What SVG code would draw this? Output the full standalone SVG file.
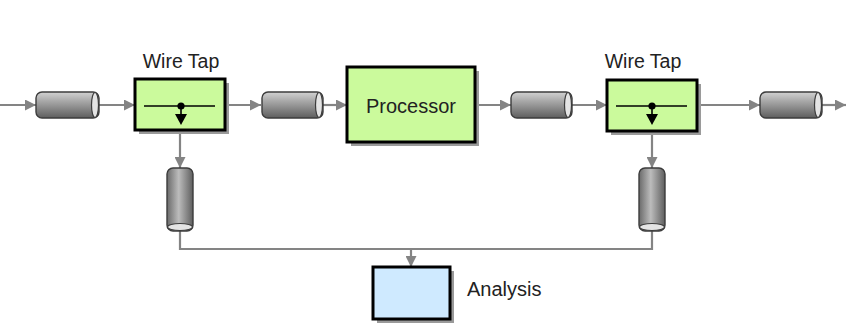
<svg xmlns="http://www.w3.org/2000/svg" width="846" height="325" viewBox="0 0 846 325">
<style>
.lbl{font-family:"Liberation Sans",Arial,sans-serif;fill:#222}
.box{stroke:#000;stroke-width:3}
.shadow{fill:#9a9a9a}
.conn{stroke:#848484;stroke-width:2.2;fill:none}
.cyl{stroke:#3c3c3c;stroke-width:1.4}
.cap{fill:#e4e4e4;stroke:#3c3c3c;stroke-width:1.2}
.tap{stroke:#000;stroke-width:1.6;fill:none}
</style>
<defs>
<marker id="ah" markerUnits="userSpaceOnUse" markerWidth="11" markerHeight="11" refX="11" refY="5.5" orient="auto">
<path d="M0,0 L11,5.5 L0,11 z" fill="#848484"/>
</marker>
<linearGradient id="gh" x1="0" y1="0" x2="0" y2="1">
<stop offset="0" stop-color="#d2d2d2"/>
<stop offset="0.35" stop-color="#a8a8a8"/>
<stop offset="1" stop-color="#5e5e5e"/>
</linearGradient>
<linearGradient id="gv" x1="0" y1="0" x2="1" y2="0">
<stop offset="0" stop-color="#6a6a6a"/>
<stop offset="0.45" stop-color="#bcbcbc"/>
<stop offset="1" stop-color="#5e5e5e"/>
</linearGradient>
</defs>

<g id="connectors">
<line class="conn" x1="0" y1="105" x2="36" y2="105" marker-end="url(#ah)"/>
<line class="conn" x1="99" y1="105" x2="135" y2="105" marker-end="url(#ah)"/>
<line class="conn" x1="225" y1="105" x2="261" y2="105" marker-end="url(#ah)"/>
<line class="conn" x1="323" y1="105" x2="347" y2="105" marker-end="url(#ah)"/>
<line class="conn" x1="475" y1="105" x2="511" y2="105" marker-end="url(#ah)"/>
<line class="conn" x1="572" y1="105" x2="607" y2="105" marker-end="url(#ah)"/>
<line class="conn" x1="697" y1="105" x2="760" y2="105" marker-end="url(#ah)"/>
<line class="conn" x1="822" y1="105" x2="846" y2="105" marker-end="url(#ah)"/>
<line class="conn" x1="180" y1="131" x2="180" y2="168" marker-end="url(#ah)"/>
<line class="conn" x1="652" y1="132" x2="652" y2="168" marker-end="url(#ah)"/>
<polyline class="conn" points="180,231 180,249 652,249 652,231"/>
<line class="conn" x1="411" y1="249" x2="411" y2="267" marker-end="url(#ah)"/>
</g>

<g id="ch1">
<rect class="cyl" x="36" y="92" width="63" height="26" rx="6" fill="url(#gh)"/>
<ellipse class="cap" cx="95" cy="105" rx="3.5" ry="12.5"/>
</g>
<g id="wiretap1">
<rect class="shadow" x="139" y="83" width="90" height="51"/>
<rect class="box" x="135" y="79" width="90" height="51" fill="#cbfa9c"/>
<line class="tap" x1="144" y1="106" x2="215" y2="106"/>
<circle cx="181" cy="106" r="3.6" fill="#000"/>
<line class="tap" x1="181" y1="106" x2="181" y2="116"/>
<path d="M175,114 L187,114 L181,125 z" fill="#000"/>
<text class="lbl" x="181" y="68" font-size="19.5" text-anchor="middle">Wire Tap</text>
</g>
<g id="ch2">
<rect class="cyl" x="262" y="92" width="61" height="26" rx="6" fill="url(#gh)"/>
<ellipse class="cap" cx="319" cy="105" rx="3.5" ry="12.5"/>
</g>
<g id="processor">
<rect class="shadow" x="351" y="71" width="128" height="75"/>
<rect class="box" x="347" y="67" width="128" height="75" fill="#cbfa9c"/>
<text class="lbl" x="411" y="113" font-size="20" text-anchor="middle">Processor</text>
</g>
<g id="ch3">
<rect class="cyl" x="511" y="92" width="61" height="26" rx="6" fill="url(#gh)"/>
<ellipse class="cap" cx="568" cy="105" rx="3.5" ry="12.5"/>
</g>
<g id="wiretap2">
<rect class="shadow" x="611" y="84" width="90" height="51"/>
<rect class="box" x="607" y="80" width="90" height="51" fill="#cbfa9c"/>
<line class="tap" x1="616" y1="106" x2="687" y2="106"/>
<circle cx="652" cy="106" r="3.6" fill="#000"/>
<line class="tap" x1="652" y1="106" x2="652" y2="116"/>
<path d="M646,114 L658,114 L652,125 z" fill="#000"/>
<text class="lbl" x="643" y="68" font-size="19.5" text-anchor="middle">Wire Tap</text>
</g>
<g id="ch4">
<rect class="cyl" x="760" y="92" width="62" height="26" rx="6" fill="url(#gh)"/>
<ellipse class="cap" cx="818" cy="105" rx="3.5" ry="12.5"/>
</g>
<g id="cv1">
<rect class="cyl" x="167" y="168" width="26" height="63" rx="6" fill="url(#gv)"/>
<ellipse class="cap" cx="180" cy="227" rx="12.5" ry="3.5"/>
</g>
<g id="cv2">
<rect class="cyl" x="639" y="168" width="26" height="63" rx="6" fill="url(#gv)"/>
<ellipse class="cap" cx="652" cy="227" rx="12.5" ry="3.5"/>
</g>
<g id="analysis">
<rect class="shadow" x="377" y="271" width="77" height="52"/>
<rect class="box" x="373" y="267" width="77" height="52" fill="#cfeaff"/>
<text class="lbl" x="467" y="296" font-size="20">Analysis</text>
</g>
</svg>
